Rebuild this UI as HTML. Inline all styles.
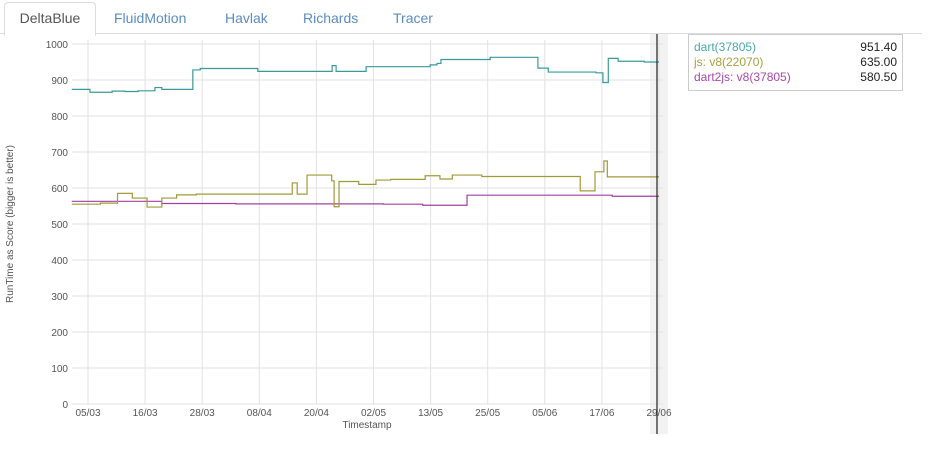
<!DOCTYPE html>
<html><head><meta charset="utf-8"><style>
body{margin:0;width:932px;height:460px;background:#fff;font-family:"Liberation Sans",Arial,sans-serif;overflow:hidden;position:relative}
.tabs{position:absolute;left:0;top:0;width:922px;height:33px;border-bottom:1px solid #ddd}
.tab{position:absolute;top:10px;font-size:14px;color:#5b8cc0}
.tab.active{top:2px;left:4px;width:90px;height:32px;border:1px solid #ddd;border-bottom:1px solid #fff;border-radius:4px 4px 0 0;color:#555;text-align:center;line-height:31px;background:#fff}
.legend{position:absolute;left:688px;top:34px;width:213px;height:55px;border:1px solid #ccc;font-size:12px}
.lr{position:absolute;left:5px;right:5px;height:15px}
.lr span:last-child{position:absolute;right:0;color:#222}
</style></head><body>
<div class="tabs">
<div class="tab active">DeltaBlue</div>
<div class="tab" style="left:114px">FluidMotion</div>
<div class="tab" style="left:225px">Havlak</div>
<div class="tab" style="left:303px">Richards</div>
<div class="tab" style="left:393px">Tracer</div>
</div>
<svg id="chart" width="932" height="460" style="position:absolute;left:0;top:0"></svg>
<div class="legend">
<div class="lr" style="top:5px"><span style="color:#4aa8a8">dart(37805)</span><span>951.40</span></div>
<div class="lr" style="top:20px"><span style="color:#a8a040">js: v8(22070)</span><span>635.00</span></div>
<div class="lr" style="top:35px"><span style="color:#a848a8">dart2js: v8(37805)</span><span>580.50</span></div>
</div>
<script>
const yTicks=[0,100,200,300,400,500,600,700,800,900,1000];
const xTickDays=[0,11.6,23.2,34.8,46.4,58,69.6,81.2,92.8,104.4,116];
const xTickLabels=["05/03","16/03","28/03","08/04","20/04","02/05","13/05","25/05","05/06","17/06","29/06"];
const dartDays=[-3.3,0.4,4.9,7.5,10.2,13.6,15,21.3,22.8,34.5,49.6,50.4,56.5,69.5,70.9,71.7,81.7,91.4,93.5,103.2,104.6,105.7,107.7,113,116];
const dartVals=[874,866,869,868,870,879,874,928,932,924,940,924,937,942,946,957,963,933,922,920,893,960,952,950,950];
const jsDays=[-3.3,2.5,6,9,12,15,18,22,38,41.5,42.5,44.5,49.5,50,51,55,58.5,61.5,68.5,71.5,74,80,100,103,104.8,105.5];
const jsVals=[555,558,585,572,547,572,581,583,583,614,583,636,620,548,618,610,622,624,634,625,636,632,592,645,675,631];
const d2Days=[-3.3,12,15,30,60,68,77,81,95,106.5,110];
const d2Vals=[563,563,557,556,555,552,580,580,580,577,577];
const S="http://www.w3.org/2000/svg",svg=document.getElementById('chart');
const X=d=>88+d*571/116, Y=v=>404-v*0.36;
function mk(t,a,p){const e=document.createElementNS(S,t);for(const k in a)e.setAttribute(k,a[k]);(p||svg).appendChild(e);return e;}
const band=mk('rect',{x:650,y:34,width:18,height:400,fill:'#f2f2f2'});


yTicks.forEach(v=>{
 const g=mk('line',{x1:72,x2:663,y1:Y(v),y2:Y(v),stroke:'#e2e2e2'});
 
 
 const t=mk('text',{x:68,y:Y(v)+4,'text-anchor':'end','font-size':10,fill:'#555'});t.textContent=v;
 
 
});
xTickDays.forEach((d,i)=>{
 const g=mk('line',{x1:X(d),x2:X(d),y1:40,y2:404,stroke:'#e2e2e2'});
 
 
 const t=mk('text',{x:X(d),y:416,'text-anchor':'middle','font-size':10,fill:'#555'});t.textContent=xTickLabels[i];
 
 
});
const xt=mk('text',{x:367,y:428,'text-anchor':'middle','font-size':10,fill:'#555'});xt.textContent='Timestamp';


const yt=mk('text',{x:0,y:0,'text-anchor':'middle','font-size':10,fill:'#555',transform:'translate(13,224) rotate(-90)'});yt.textContent='RunTime as Score (bigger is better)';


function step(days,vals,color,name){
 let d='';days.forEach((x,i)=>{d+=(i?'H'+X(x)+'V':'M'+X(x)+' ')+Y(vals[i]);});
 d+='H'+X(116);
 const p=mk('path',{d:d,fill:'none',stroke:color,'stroke-width':1.2});
 
 
}
step(d2Days,d2Vals,'#a040a0','dart2js-line');
step(jsDays,jsVals,'#a09a38','js-line');
step(dartDays,dartVals,'#3a9a9a','dart-line');
const cl=mk('line',{x1:657,x2:657,y1:34,y2:434,stroke:'#222','stroke-width':1.2});


</script>
</body></html>
